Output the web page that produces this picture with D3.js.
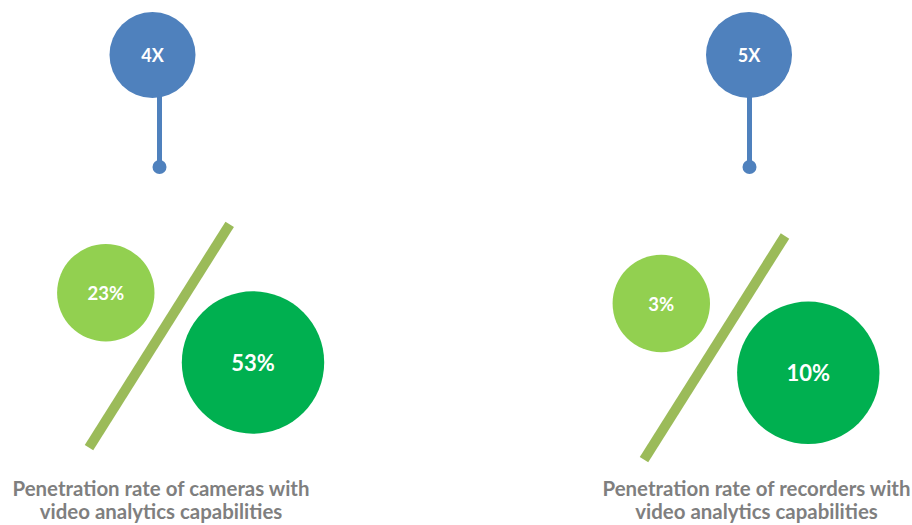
<!DOCTYPE html>
<html>
<head>
<meta charset="utf-8">
<script src="https://cdn.jsdelivr.net/npm/d3@7/dist/d3.min.js"></script>
<style>
  html, body { margin: 0; padding: 0; background: #ffffff; }
  svg { display: block; }
</style>
</head>
<body>
<svg id="chart" width="912" height="525"></svg>
<script>
// ---- data ----
const groups = ["cameras", "recorders"];
const multipliers = ["4X", "5X"];
const smallValues = [23, 3];
const largeValues = [53, 10];
const labelLine1 = ["Penetration rate of cameras with", "Penetration rate of recorders with"];
const labelLine2 = ["video analytics capabilities", "video analytics capabilities"];

// ---- layout ----
const svg = d3.select("#chart");
const at = (a, b) => d3.scalePoint().domain(groups).range([a, b]);

const pinX = at(152.5, 749), stemX = at(159.5, 749.5);
const smallX = at(105.8, 661.3), smallY = at(292.8, 303.5);
const largeX = at(253, 808.3), largeY = at(362.5, 372.8);
const slashTopX = at(229.7, 785), slashTopY = at(224.3, 236);
const slashBotX = at(89, 644), slashBotY = at(447.7, 459.7);
const labelX = at(161, 756.5);

const blue = "#4F81BD", lightGreen = "#92D050", darkGreen = "#00B050", olive = "#9BBB59";
const font = "Lato, 'Open Sans', sans-serif";

const data = groups.map((g, i) => ({
  g, mult: multipliers[i], small: smallValues[i], large: largeValues[i],
  l1: labelLine1[i], l2: labelLine2[i]
}));

const grp = svg.selectAll("g.group").data(data).join("g").attr("class", "group");

// pin stem
grp.append("line")
  .attr("x1", d => stemX(d.g)).attr("x2", d => stemX(d.g))
  .attr("y1", 90).attr("y2", 167)
  .attr("stroke", blue).attr("stroke-width", 5);
grp.append("circle")
  .attr("cx", d => stemX(d.g)).attr("cy", 167).attr("r", 7)
  .attr("fill", blue);
grp.append("circle")
  .attr("cx", d => pinX(d.g)).attr("cy", 55).attr("r", 43)
  .attr("fill", blue);
grp.append("text")
  .attr("x", d => pinX(d.g)).attr("y", 62)
  .attr("text-anchor", "middle")
  .attr("fill", "#ffffff")
  .style("font-family", font).style("font-weight", 700).style("font-size", "18px")
  .text(d => d.mult);

// slash
grp.append("line")
  .attr("x1", d => slashTopX(d.g)).attr("y1", d => slashTopY(d.g))
  .attr("x2", d => slashBotX(d.g)).attr("y2", d => slashBotY(d.g))
  .attr("stroke", olive).attr("stroke-width", 10);

// small circle
grp.append("circle")
  .attr("cx", d => smallX(d.g)).attr("cy", d => smallY(d.g)).attr("r", 48.7)
  .attr("fill", lightGreen);
grp.append("text")
  .attr("x", d => smallX(d.g)).attr("y", d => smallY(d.g) + 7)
  .attr("text-anchor", "middle").attr("fill", "#ffffff")
  .style("font-family", font).style("font-weight", 700).style("font-size", "18.5px")
  .text(d => d.small + "%");

// large circle
grp.append("circle")
  .attr("cx", d => largeX(d.g)).attr("cy", d => largeY(d.g)).attr("r", 71.2)
  .attr("fill", darkGreen);
grp.append("text")
  .attr("x", d => largeX(d.g)).attr("y", d => largeY(d.g) + 8)
  .attr("text-anchor", "middle").attr("fill", "#ffffff")
  .style("font-family", font).style("font-weight", 700).style("font-size", "22px")
  .text(d => d.large + "%");

// labels (two separate lines)
const l1 = grp.append("text")
  .attr("x", d => labelX(d.g)).attr("y", 496)
  .attr("text-anchor", "middle").attr("fill", "#7F7F7F")
  .style("font-family", font).style("font-weight", 700).style("font-size", "20px")
  .text(d => d.l1);
const l2 = grp.append("text")
  .attr("x", d => labelX(d.g)).attr("y", 519)
  .attr("text-anchor", "middle").attr("fill", "#7F7F7F")
  .style("font-family", font).style("font-weight", 700).style("font-size", "20px")
  .text(d => d.l2);

// fit label size so the first (left) line is ~297px wide
let fs = 20;
const w0 = l1.node().getComputedTextLength();
if (w0 > 0) fs = Math.min(20 * 297 / w0, 24);
l1.style("font-size", fs.toFixed(2) + "px");
l2.style("font-size", fs.toFixed(2) + "px");
</script>
</body>
</html>
